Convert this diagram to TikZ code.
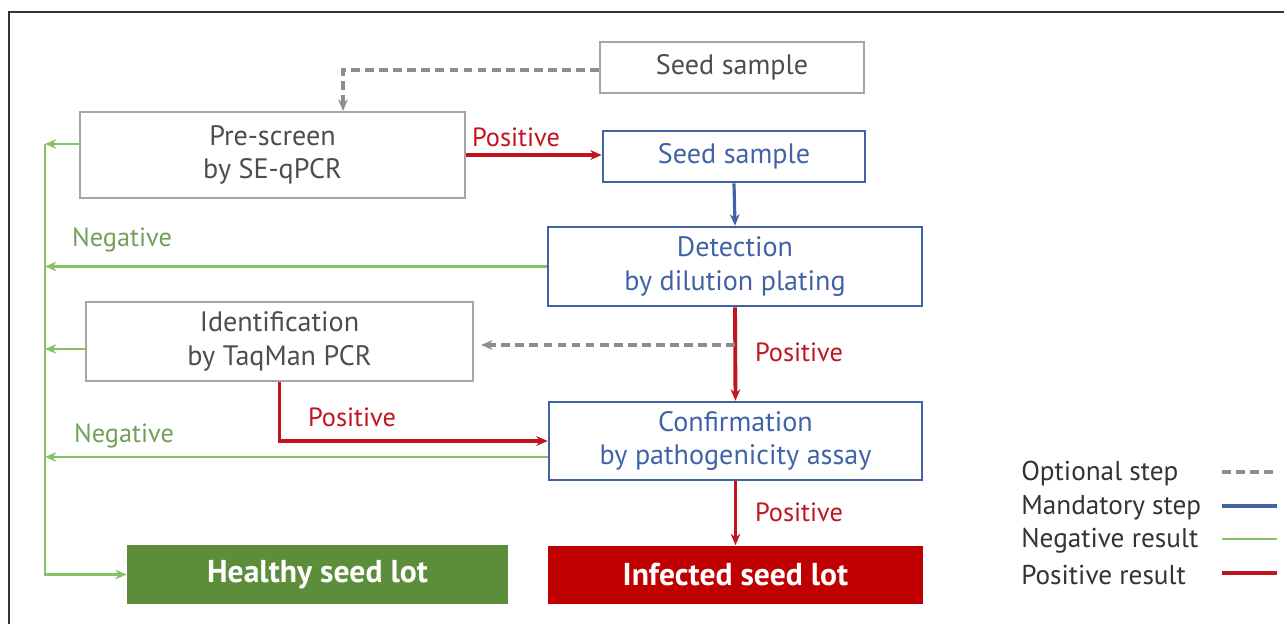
\documentclass[tikz,border=0pt]{standalone}
\usepackage{fontspec}
\setmainfont{PT Sans}
\usetikzlibrary{arrows.meta,calc}
\definecolor{optgray}{HTML}{A6A6A6}
\definecolor{txtgray}{HTML}{4D4D4D}
\definecolor{manblue}{HTML}{4262A6}
\definecolor{neggreen}{HTML}{84C266}
\definecolor{negtext}{HTML}{72A05C}
\definecolor{healthy}{HTML}{5B8D3B}
\definecolor{posred}{HTML}{C0141E}
\definecolor{infected}{HTML}{C00000}

\begin{document}
\begin{tikzpicture}[x=0.02cm, y=-0.02cm, >={Stealth[length=6.5pt,width=5.5pt]}, %箭头统一
    optbox/.style={draw=optgray, line width=1.3pt, text=txtgray, align=center, inner sep=0pt, font=\fontsize{16}{19}\selectfont},
    manbox/.style={optbox, draw=manblue, line width=1.5pt, text=manblue},
    lotbox/.style={inner sep=0pt, text=white, font=\fontsize{18}{21}\selectfont\bfseries, minimum height=1.18cm},
    optline/.style={optgray!85!black, line width=2pt, dash pattern=on 5pt off 3pt},
    manline/.style={manblue, line width=1.8pt},
    negline/.style={neggreen, line width=1.4pt},
    posline/.style={posred, line width=2.2pt},
    poslbl/.style={text=posred, font=\fontsize{15}{18}\selectfont},
    neglbl/.style={text=negtext, font=\fontsize{15}{18}\selectfont},
    legtxt/.style={text=black!80, anchor=west, inner sep=0pt, font=\fontsize{15.5}{18}\selectfont}]
    \useasboundingbox (0,0) rectangle (1284,624);
    \draw[black!80, line width=0.6pt] (9,624) -- (9,12) -- (1284,12); %外框

    % 方框
    \node[optbox, minimum width=5.28cm, minimum height=1.02cm] (seedopt) at (732,67.5) {Seed sample};
    \node[optbox, minimum width=7.7cm, minimum height=1.72cm] (prescreen) at (272.5,155) {Pre-screen\\by SE-qPCR};
    \node[manbox, minimum width=5.24cm, minimum height=1.02cm] (seed) at (734,156.5) {Seed sample};
    \node[manbox, minimum width=7.48cm, minimum height=1.58cm] (detect) at (735,266.5) {Detection\\by dilution plating};
    \node[optbox, minimum width=7.74cm, minimum height=1.58cm] (ident) at (279.5,341.5) {Identification\\by TaqMan PCR};
    \node[manbox, minimum width=7.46cm, minimum height=1.56cm] (confirm) at (735.5,441) {Confirmation\\by pathogenicity assay};
    \node[lotbox, fill=healthy, minimum width=7.62cm] (healthy) at (317.5,574.5) {Healthy seed lot};
    \node[lotbox, fill=infected, minimum width=7.5cm] (infected) at (735.5,575) {Infected seed lot};
    \coordinate (trunk) at (45,144); %绿色总线的上端

    % 连线
    \draw[optline,->] ([yshift=-0.05cm]seedopt.west) -| ([xshift=1.41cm]prescreen.north);
    \draw[posline,->] (prescreen.east) -- (prescreen.east -| seed.west);
    \draw[manline,->] (seed.south) -- (detect.north);
    \draw[posline,->] (detect.south) -- (confirm.north);
    \draw[posline,->] (ident.south) |- (confirm.west);
    \draw[posline,->] (confirm.south) -- (infected.north);
    \draw[optline,->] ([yshift=-0.07cm]ident.east -| detect.south) -- ([yshift=-0.07cm,xshift=4pt]ident.east);
    \draw[negline,->] ([yshift=0.22cm]prescreen.west) -- ([yshift=0.22cm]prescreen.west -| trunk);
    \draw[negline,->] (detect.west) -- (detect.west -| trunk);
    \draw[negline,->] ([yshift=-0.15cm]ident.west) -- ([yshift=-0.15cm]ident.west -| trunk);
    \draw[negline,->] ([yshift=-0.32cm]confirm.west) -- ([yshift=-0.32cm]confirm.west -| trunk);
    \draw[negline,->] (trunk) |- (healthy.west); %回到健康种子批

    % 标签
    \node[poslbl] (pos1) at (516,137) {Positive};
    \node[neglbl] (neg1) at (122,240) {Negative};
    \node[poslbl] (pos2) at (799,352) {Positive};
    \node[poslbl] (pos3) at (352,417) {Positive};
    \node[neglbl] (neg2) at (124,436) {Negative};
    \node[poslbl] (pos4) at (799,512) {Positive};

    % 图例
    \foreach \y/\txt/\sty [count=\i] in {474/Optional step/optline, 508/Mandatory step/manline, 541/Negative result/negline, 575/Positive result/posline}{
        \node[legtxt] (leg\i) at (1021,\y) {\txt};
        \coordinate (legA\i) at (1222,\y-2);
        \draw[\sty] (legA\i) -- ++(55,0);
    }
\end{tikzpicture}
\end{document}
